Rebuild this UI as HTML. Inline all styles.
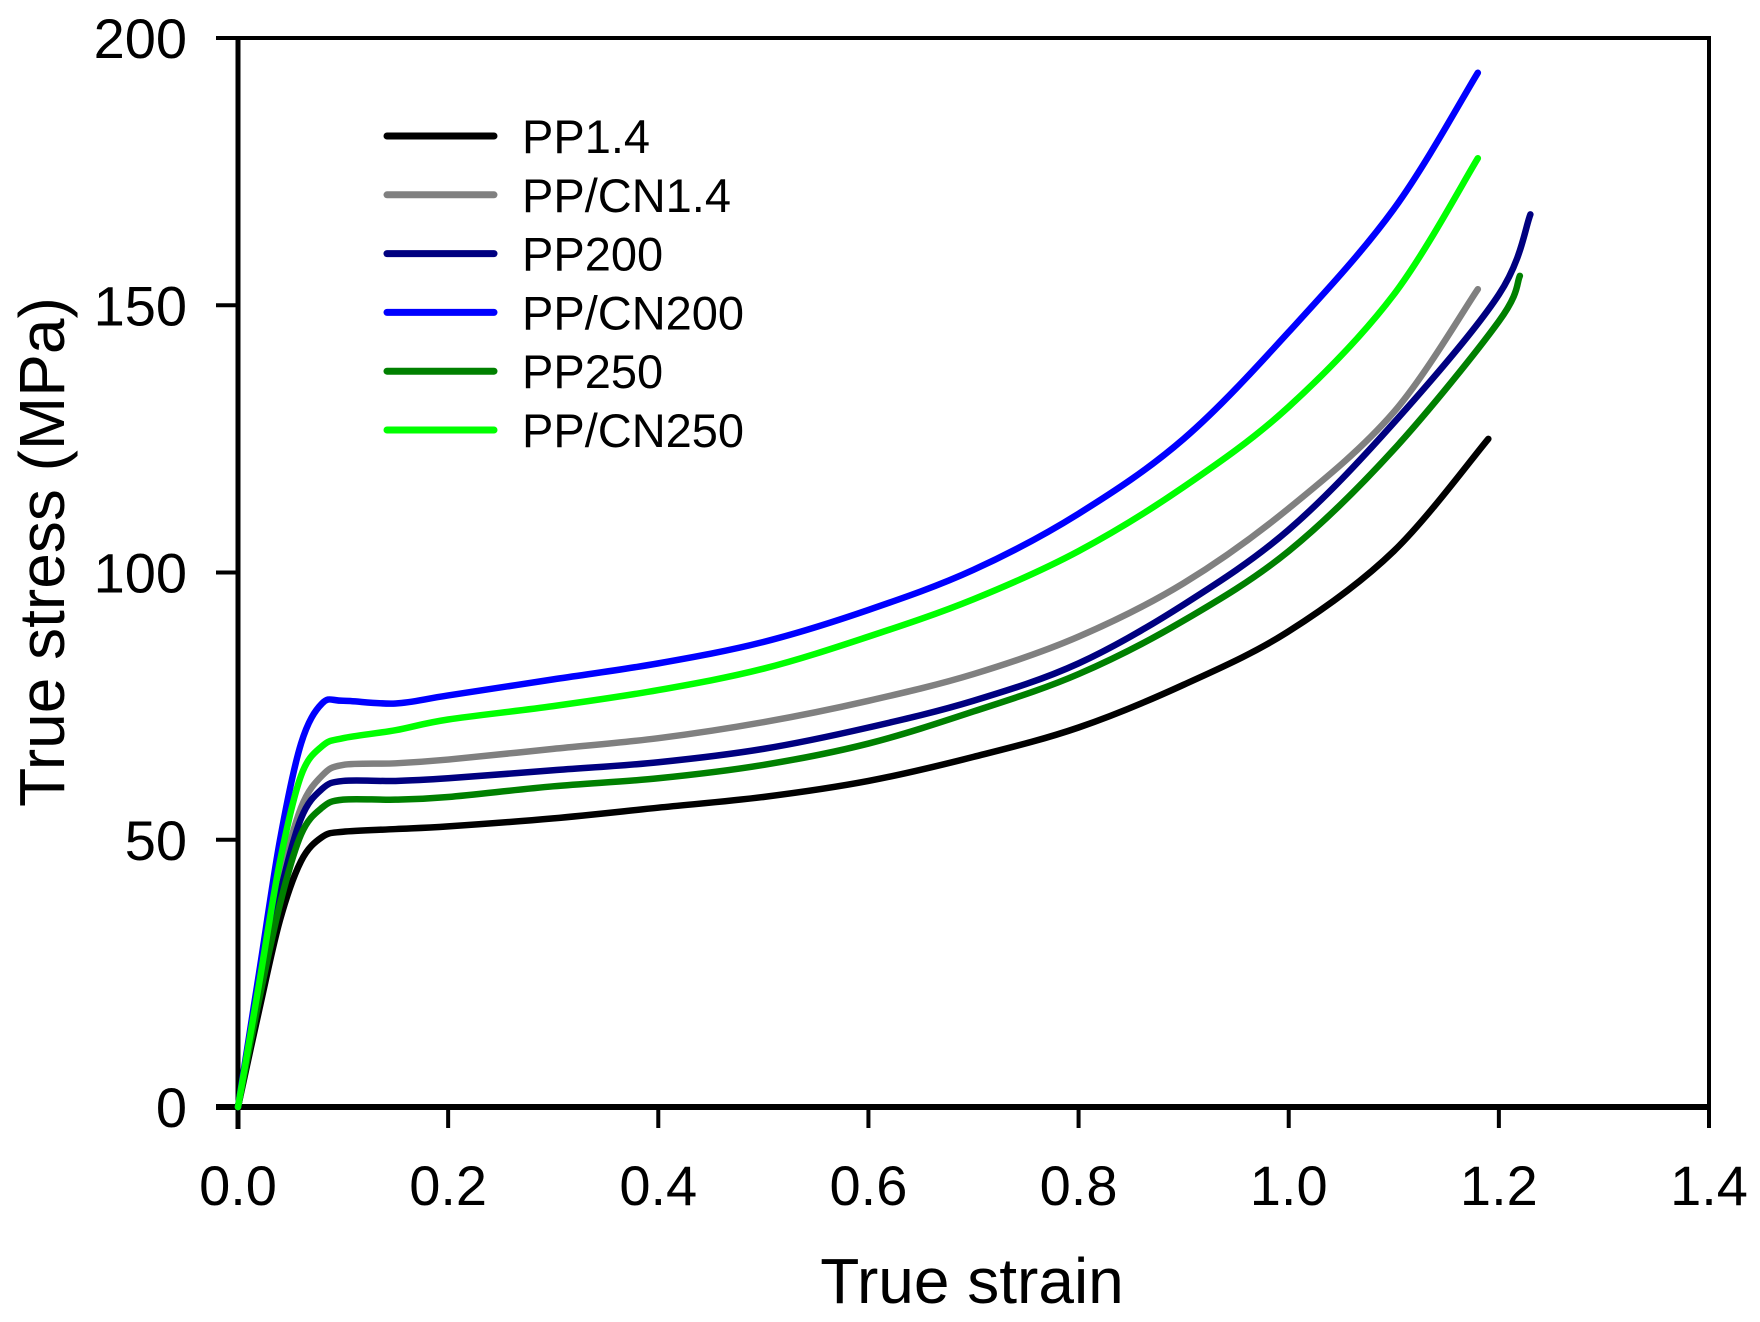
<!DOCTYPE html>
<html><head><meta charset="utf-8"><style>
html,body{margin:0;padding:0;background:#fff;}
svg{display:block;font-family:"Liberation Sans",Arial,sans-serif;}
</style></head><body>
<svg id="chart" width="1760" height="1322" viewBox="0 0 1760 1322" xmlns="http://www.w3.org/2000/svg">
<g id="axes"></g>
<g id="series"></g>
<g id="legend"></g>
<text x="972" y="1303" font-size="64" text-anchor="middle">True strain</text>
<text transform="translate(64,552) rotate(-90)" font-size="64" text-anchor="middle">True stress (MPa)</text>
</svg>
<script>
const xTicks=[0,0.2,0.4,0.6,0.8,1.0,1.2,1.4];
const xTickLabels=["0.0","0.2","0.4","0.6","0.8","1.0","1.2","1.4"];
const yTicks=[0,50,100,150,200];
const yTickLabels=["0","50","100","150","200"];
const seriesNames=["PP1.4","PP/CN1.4","PP200","PP/CN200","PP250","PP/CN250"];
const seriesColors=["#000000","#808080","#000080","#0000ff","#008000","#00ff00"];
const strainA=[0,0.02,0.04,0.06,0.08,0.1,0.15,0.2,0.3,0.4,0.5,0.6,0.7,0.8,0.9,1.0,1.1];
const pp14X=strainA.concat([1.19]);
const pp14Y=[0,18,35,46,50.5,51.5,52,52.5,54,56,58,61,65.5,71,79,89,104,125];
const ppcn14X=strainA.concat([1.18]);
const ppcn14Y=[0,22,42,56,62,64,64.3,65,67,69,72,76,81,88,98,112,130,153];
const pp200X=strainA.concat([1.2,1.23]);
const pp200Y=[0,21,40,54,59.5,61,61,61.5,63,64.5,67,71,76,83,94,108,128,152,167];
const ppcn200X=strainA.concat([1.18]);
const ppcn200Y=[0,25,50,68,75.5,76,75.5,77,80,83,87,93,100.5,111,125,145,168,193.5];
const pp250X=strainA.concat([1.2,1.22]);
const pp250Y=[0,20,38,51,56,57.5,57.5,58,60,61.5,64,68,74,81,91,104,123,147,155.5];
const ppcn250X=strainA.concat([1.18]);
const ppcn250Y=[0,23,46,62,67.5,69,70.5,72.5,75,78,82,88,95,104,116,131,152,177.5];
const allX=[pp14X,ppcn14X,pp200X,ppcn200X,pp250X,ppcn250X];
const allY=[pp14Y,ppcn14Y,pp200Y,ppcn200Y,pp250Y,ppcn250Y];

const L=238,R=1709,T=38,B=1107;
const xs=v=>L+(v-0)/(1.4-0)*(R-L);
const ys=v=>B-(v-0)/(200-0)*(B-T);
const NS="http://www.w3.org/2000/svg";
function mk(tag,attrs,parent){const e=document.createElementNS(NS,tag);for(const k in attrs)e.setAttribute(k,attrs[k]);parent.appendChild(e);return e;}
const axes=document.getElementById('axes');
let fr=mk('rect',{x:L,y:T,width:R-L,height:B-T,fill:'none',stroke:'#000','stroke-width':4},axes);


let bx=mk('line',{x1:L-22,x2:R,y1:B,y2:B,stroke:'#000','stroke-width':6},axes);


let by=mk('line',{x1:L,x2:L,y1:T,y2:B+22,stroke:'#000','stroke-width':5},axes);


xTicks.forEach((t,i)=>{
  const l=mk('line',{x1:xs(t),x2:xs(t),y1:B,y2:B+21,stroke:'#000','stroke-width':4},axes);
  
  
  const tx=mk('text',{x:xs(t),y:B+98,'font-size':56,'text-anchor':'middle'},axes);
  tx.textContent=xTickLabels[i];
  
  
});
yTicks.forEach((t,i)=>{
  const l=mk('line',{x1:L-22,x2:L,y1:ys(t),y2:ys(t),stroke:'#000','stroke-width':4},axes);
  
  
  const tx=mk('text',{x:187,y:ys(t)+20,'font-size':56,'text-anchor':'end'},axes);
  tx.textContent=yTickLabels[i];
  
  
});
function smooth(px,py){
  const p=px.map((x,i)=>[xs(x),ys(py[i])]);
  let d='M'+p[0][0]+','+p[0][1];
  for(let i=0;i<p.length-1;i++){
    const p0=p[i-1]||p[i],p1=p[i],p2=p[i+1],p3=p[i+2]||p2;
    const c1=[p1[0]+(p2[0]-p0[0])/6,p1[1]+(p2[1]-p0[1])/6];
    const c2=[p2[0]-(p3[0]-p1[0])/6,p2[1]-(p3[1]-p1[1])/6];
    d+=' C'+c1[0]+','+c1[1]+' '+c2[0]+','+c2[1]+' '+p2[0]+','+p2[1];
  }
  return d;
}
const sg=document.getElementById('series');
const lg=document.getElementById('legend');
seriesNames.forEach((n,i)=>{
  const p=mk('path',{d:smooth(allX[i],allY[i]),fill:'none',stroke:seriesColors[i],'stroke-width':6.5,'stroke-linejoin':'round','stroke-linecap':'round'},sg);
  
  
  const y=136+i*58.8;
  const ll=mk('line',{x1:387,x2:494,y1:y,y2:y,stroke:seriesColors[i],'stroke-width':7,'stroke-linecap':'round'},lg);
  
  
  const t=mk('text',{x:522,y:y+17,'font-size':47},lg);
  t.textContent=n;
  
  
});
</script>
</body></html>
